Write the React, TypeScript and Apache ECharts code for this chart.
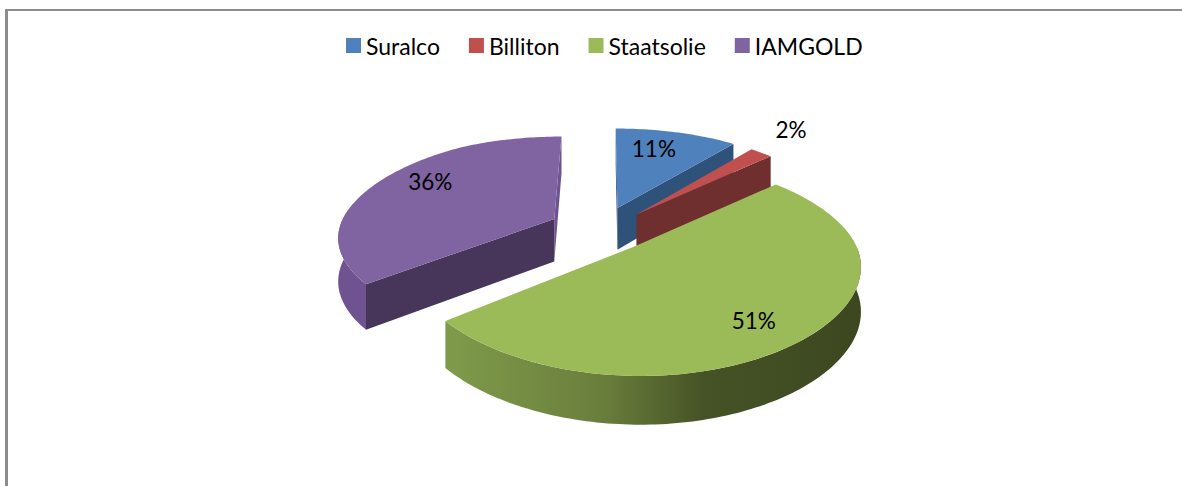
import React, { useEffect, useRef } from "react";
import * as echarts from "echarts";

const names = ["Suralco", "Billiton", "Staatsolie", "IAMGOLD"];
const values = [11, 2, 51, 36];
const colors = ["#4f81bd", "#c0504d", "#9bbb59", "#8064a2"];
const wallColors = ["#2f527a", "#6f2f2f", "#4f5f2c", "#47365a"];
const rimColors = ["#3a6090", "#8a3a38", "#5a6c32", "#6e5390"];
const explodeX = [0.06, 0.15, 0.132, -0.24];
const explodeY = [-0.262, -0.19, 0.15, -0.14];
const labelRadius = [0.736, 1.385, 0.787, 0.775];
const labelFraction = [0.404, 0.07, 0.529, 0.565];

const O = { x: 605, y: 232 };
const A = 216.5;
const B = 93.5;
const K = 0.22;
const KX = 0.17;

const total = values.reduce((s, v) => s + v, 0);

function sliceAngles(i: number) {
  const before = values.slice(0, i).reduce((s, v) => s + v, 0);
  return [(before / total) * Math.PI * 2, ((before + values[i]) / total) * Math.PI * 2];
}

function project(i: number, t: number, r: number, down = false): number[] {
  const X = Math.sin(t) * r + explodeX[i];
  const Y = -Math.cos(t) * r + explodeY[i];
  const stretch = Y < 0 ? 1 + 0.12 * Math.min(1, -Y) : 1;
  const sx = O.x + (A * X) / (1 - KX * Y);
  const sy = O.y + ((B * Y) / (1 - K * Y)) * stretch + (down ? 43 + 5 * Y : 0);
  return [sx, sy];
}

function arcPoints(i: number, from: number, to: number, down = false) {
  const n = Math.max(2, Math.ceil(Math.abs(to - from) / 0.02));
  const pts: number[][] = [];
  for (let k = 0; k <= n; k++) pts.push(project(i, from + ((to - from) * k) / n, 1, down));
  return pts;
}

function renderSlice(i: number) {
  return () => {
    const [a0, a1] = sliceAngles(i);
    const children: any[] = [];
    const wall = (t: number, fill: string) => ({
      type: "polygon",
      shape: {
        points: [project(i, t, 0), project(i, t, 1), project(i, t, 1, true), project(i, t, 0, true)],
      },
      style: { fill },
    });
    // radial walls that face the viewer
    if (i === 3) children.push(wall(a1, rimColors[3]), wall(a0, wallColors[3]));
    else if (i === 0) children.push(wall(a0, wallColors[0]), wall(a1, wallColors[0]));
    else if (i === 1) children.push(wall(a1, wallColors[1]));
    // outer rim
    const from = Math.max(a0, Math.PI / 2);
    const to = Math.min(a1, (Math.PI * 3) / 2 + 0.1);
    if (to > from) {
      const top = arcPoints(i, from, to);
      const bottom = arcPoints(i, from, to, true).reverse();
      children.push({
        type: "polygon",
        shape: { points: top.concat(bottom) },
        style: {
          fill:
            i === 2
              ? new echarts.graphic.LinearGradient(0, 0, 1, 0, [
                  { offset: 0, color: "#7f9b4a" },
                  { offset: 0.38, color: "#6a7e3c" },
                  { offset: 0.62, color: "#465326" },
                  { offset: 1, color: "#3c4720" },
                ])
              : rimColors[i],
        },
      });
    }
    // top face
    children.push({
      type: "polygon",
      shape: { points: [project(i, 0, 0)].concat(arcPoints(i, a0, a1)) },
      style: { fill: colors[i] },
    });
    // label
    const [lx, ly] = project(i, a0 + (a1 - a0) * labelFraction[i], labelRadius[i]);
    children.push({
      type: "text",
      x: lx,
      y: ly,
      style: {
        text: `${values[i]}%`,
        fontFamily: "Lato",
        fontSize: 22.5,
        fill: "#000",
        align: "center",
        verticalAlign: "middle",
      },
      z2: 10,
    });
    return { type: "group", children };
  };
}

export default function App() {
  const ref = useRef<HTMLDivElement>(null);
  useEffect(() => {
    const chart = echarts.init(ref.current!, undefined, { renderer: "svg" });
    chart.setOption({
      animation: false,
      backgroundColor: "#fff",
      legend: {
        left: 341,
        top: 29,
        icon: "rect",
        itemWidth: 15,
        itemHeight: 15,
        itemGap: 29,
        data: names.map((name, i) => ({ name, itemStyle: { color: colors[i], borderWidth: 0 } })),
        textStyle: { fontFamily: "Lato", fontSize: 23, color: "#000" },
      },
      graphic: [
        { type: "rect", shape: { x: 5, y: 9, width: 3, height: 477 }, style: { fill: "#8c8c8c" } },
        { type: "rect", shape: { x: 5, y: 9, width: 1177, height: 2 }, style: { fill: "#8c8c8c" } },
      ],
      series: names.map((name, i) => ({
        type: "custom",
        name,
        coordinateSystem: "none",
        itemStyle: { color: colors[i] },
        data: [values[i]],
        renderItem: renderSlice(i),
      })),
    });
    return () => chart.dispose();
  }, []);
  return <div ref={ref} style={{ position: "fixed", left: 0, top: 0, width: 1182, height: 486 }} />;
}
